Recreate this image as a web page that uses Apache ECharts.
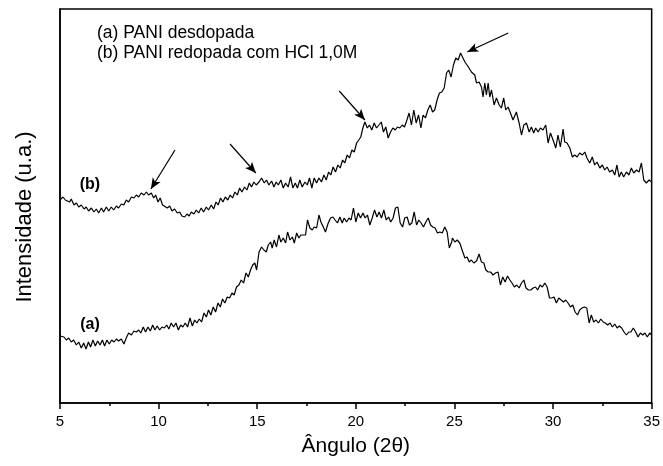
<!DOCTYPE html>
<html>
<head>
<meta charset="utf-8">
<script src="https://cdn.jsdelivr.net/npm/echarts@6/dist/echarts.min.js"></script>
<style>
  html, body { margin: 0; padding: 0; background: #fff; }
  #chart { width: 663px; height: 466px; }
</style>
</head>
<body>
<div id="chart"></div>
<script>
// Diffraction angle (2θ, degrees) and intensity (arbitrary units) for each sample.
// (b) PANI redopada com HCl 1,0M
const angleB = [
  5.00,5.03,5.15,5.27,5.37,5.49,5.57,5.71,5.83,5.95,6.08,6.22,6.33,6.45,6.59,6.72,6.84,6.96,7.10,7.21,
  7.35,7.47,7.60,7.72,7.86,7.97,8.11,8.24,8.36,8.48,8.62,8.75,8.87,8.99,9.12,9.26,9.38,9.49,9.63,9.75,
  9.85,9.97,10.08,10.20,10.30,10.44,10.56,10.68,10.81,10.95,11.07,11.18,11.32,11.44,11.55,11.66,11.79,11.91,12.03,12.16,
  12.28,12.42,12.53,12.67,12.79,12.91,13.02,13.14,13.26,13.38,13.51,13.63,13.75,13.87,13.99,14.11,14.22,14.36,14.48,14.60,
  14.71,14.83,14.95,15.09,15.22,15.36,15.47,15.59,15.73,15.85,15.96,16.07,16.20,16.32,16.44,16.57,16.69,16.81,16.93,17.04,
  17.16,17.28,17.42,17.54,17.65,17.77,17.89,18.01,18.13,18.26,18.38,18.50,18.62,18.73,18.85,18.97,19.09,19.21,19.33,19.44,
  19.56,19.68,19.80,19.92,20.04,20.15,20.25,20.37,20.46,20.58,20.69,20.81,20.93,21.05,21.17,21.29,21.40,21.52,21.64,21.76,
  21.88,22.00,22.11,22.23,22.35,22.47,22.59,22.70,22.82,22.94,23.06,23.18,23.30,23.41,23.53,23.65,23.77,23.89,24.00,24.12,
  24.24,24.36,24.48,24.60,24.71,24.83,24.95,25.07,25.19,25.31,25.41,25.53,25.64,25.74,25.86,25.95,26.03,26.12,26.25,26.37,
  26.45,26.54,26.62,26.71,26.79,26.88,27.01,27.13,27.27,27.38,27.50,27.60,27.72,27.84,27.97,28.14,28.28,28.40,28.52,28.65,
  28.79,28.90,29.02,29.12,29.24,29.36,29.49,29.63,29.75,29.87,30.00,30.14,30.25,30.37,30.51,30.59,30.71,30.85,30.98,31.10,
  31.22,31.35,31.49,31.61,31.72,31.86,31.99,32.11,32.23,32.37,32.50,32.62,32.74,32.87,33.01,33.13,33.24,33.35,33.46,33.58,
  33.72,33.85,33.97,34.09,34.23,34.36,34.48,34.60,34.73,34.87,35.00
];
const intensB = [
  203,204,206,203,205,201,204,198,200,196,198,194,196,192,195,191,194,190,195,191,
  196,192,196,193,197,195,199,198,203,201,206,205,208,206,210,208,211,208,210,205,
  208,201,205,198,200,195,197,192,194,190,191,187,186,189,187,191,189,193,190,195,
  191,196,193,198,194,201,198,205,201,206,203,208,205,211,208,215,211,216,213,220,
  216,221,218,221,225,220,223,218,222,216,221,218,223,215,220,216,226,215,220,215,
  223,216,221,218,225,215,225,220,225,221,228,223,231,228,236,231,238,235,243,240,
  248,245,253,251,260,263,266,276,281,275,278,273,280,275,278,281,271,276,265,271,
  275,273,276,275,278,276,283,290,278,293,280,288,275,288,285,293,298,291,293,303,
  310,311,315,330,333,326,338,345,343,350,348,341,338,335,331,333,328,320,321,316,
  306,320,308,320,306,313,298,305,298,295,305,293,296,290,283,291,280,268,278,280,
  271,276,270,275,271,275,273,278,260,270,263,255,268,256,274,261,260,255,246,248,
  246,250,248,251,245,240,246,238,241,235,238,233,236,231,233,228,238,226,231,226,
  231,228,235,230,233,231,240,223,220,223,221
];

// (a) PANI desdopada
const angleA = [
  5.00,5.10,5.20,5.32,5.44,5.57,5.69,5.83,5.95,6.08,6.20,6.32,6.44,6.55,6.67,6.79,6.91,7.03,7.15,7.26,
  7.38,7.50,7.62,7.74,7.86,7.97,8.11,8.24,8.36,8.48,8.62,8.75,8.87,8.99,9.10,9.22,9.34,9.46,9.58,9.70,
  9.81,9.93,10.05,10.17,10.29,10.41,10.52,10.64,10.76,10.88,11.00,11.12,11.23,11.35,11.47,11.59,11.71,11.83,11.94,12.06,
  12.18,12.30,12.42,12.53,12.65,12.77,12.89,13.01,13.13,13.24,13.36,13.48,13.60,13.72,13.83,13.95,14.07,14.19,14.31,14.43,
  14.55,14.66,14.77,14.88,14.97,15.09,15.22,15.34,15.46,15.56,15.68,15.76,15.86,15.98,16.10,16.20,16.32,16.44,16.54,16.66,
  16.78,16.88,17.00,17.11,17.21,17.33,17.45,17.55,17.67,17.79,17.89,18.01,18.13,18.23,18.35,18.46,18.60,18.72,18.84,18.95,
  19.07,19.19,19.31,19.41,19.53,19.65,19.76,19.88,20.00,20.12,20.24,20.36,20.47,20.59,20.71,20.83,20.95,21.07,21.18,21.30,
  21.42,21.54,21.66,21.77,21.89,22.01,22.13,22.25,22.37,22.48,22.60,22.72,22.84,22.96,23.08,23.19,23.31,23.43,23.55,23.67,
  23.79,23.90,24.02,24.14,24.26,24.38,24.51,24.63,24.74,24.86,24.90,25.02,25.14,25.27,25.39,25.53,25.64,25.75,25.86,25.98,
  26.12,26.25,26.37,26.49,26.59,26.71,26.83,26.96,27.08,27.21,27.33,27.45,27.57,27.69,27.81,27.92,28.04,28.16,28.28,28.40,
  28.52,28.63,28.75,28.87,28.99,29.11,29.22,29.34,29.46,29.58,29.70,29.82,29.93,30.05,30.17,30.29,30.41,30.53,30.64,30.76,
  30.88,31.00,31.12,31.24,31.35,31.47,31.59,31.71,31.83,31.94,32.06,32.18,32.30,32.42,32.54,32.65,32.77,32.89,33.01,33.13,
  33.25,33.36,33.48,33.60,33.72,33.84,33.95,34.07,34.19,34.31,34.43,34.55,34.66,34.78,34.90,35.00
];
const intensA = [
  67,65,66,63,65,61,63,58,61,55,60,54,61,56,63,57,62,58,63,57,
  63,59,63,61,64,62,64,59,65,70,68,72,71,73,70,76,71,76,72,78,
  73,77,73,76,75,78,74,80,76,80,73,78,76,80,76,85,77,83,80,84,
  81,90,86,93,88,96,91,100,96,104,100,106,105,110,108,116,118,123,120,130,
  126,133,138,140,133,151,156,153,151,158,161,155,163,156,168,161,165,160,171,163,
  166,160,170,165,168,168,168,183,175,173,176,175,188,181,176,171,180,185,186,183,
  180,186,180,185,181,185,183,195,181,190,185,190,185,188,178,185,193,186,191,185,
  193,183,186,181,185,195,196,180,176,185,186,178,180,191,178,183,180,176,181,185,
  178,176,175,170,171,170,176,171,155,161,165,161,163,160,153,145,146,141,143,140,
  142,149,141,140,133,131,131,128,130,131,118,126,121,127,123,120,116,118,115,120,
  123,115,113,113,115,116,113,118,116,120,116,105,105,106,100,105,103,101,103,100,
  96,98,91,88,93,95,96,95,80,88,81,83,80,84,81,80,78,80,76,79,
  75,77,75,71,68,71,71,75,71,66,70,68,70,66,70,68
];

// X axis range and tick step
const xMin = 5, xMax = 35, xStep = 5;
const yMin = 0, yMax = 394;

// Curve labels, placed in data coordinates
const labelA = '(a)', labelB = '(b)';
const labelPosA = [6.52, 78];
const labelPosB = [6.52, 218];

// Arrows marking the reflections of sample (b): [start, tip]
const arrowsB = [
  [[10.83, 253], [9.61, 214]],
  [[13.62, 259], [14.93, 230]],
  [[19.16, 312], [20.46, 283]],
  [[27.73, 370], [25.65, 351]]
];

const legendLines = ['(a) PANI desdopada', '(b) PANI redopada com HCl 1,0M'];
const xTitle = 'Ângulo (2θ)';
const yTitle = 'Intensidade (u.a.)';

const FONT = '"Liberation Sans", Arial, sans-serif';

function pairs(xs, ys) { return xs.map((x, i) => [x, ys[i]]); }

const chart = echarts.init(document.getElementById('chart'), null, { renderer: 'canvas' });

const curveLabel = (text, pos) => ({
  silent: true,
  symbol: 'circle',
  symbolSize: 0,
  label: {
    show: true, position: 'inside', formatter: text,
    fontFamily: FONT, fontWeight: 'bold', fontSize: 16, color: '#000'
  },
  data: [{ coord: pos }]
});

chart.setOption({
  animation: false,
  backgroundColor: '#fff',
  grid: { left: 60, right: 11, top: 9, bottom: 63, show: true, borderColor: '#000', borderWidth: 1.5, backgroundColor: 'transparent' },
  xAxis: {
    type: 'value', min: xMin, max: xMax, interval: xStep,
    name: xTitle, nameLocation: 'middle', nameGap: 33,
    nameTextStyle: { fontFamily: FONT, fontSize: 21, color: '#000' },
    axisLine: { show: true, onZero: false, lineStyle: { color: '#000', width: 1.5 } },
    axisTick: { show: true, inside: false, length: 6, lineStyle: { color: '#000', width: 1.5 } },
    minorTick: { show: true, splitNumber: 2, length: 3, lineStyle: { color: '#000', width: 1.5 } },
    axisLabel: { fontFamily: FONT, fontSize: 15, color: '#000', margin: 11 },
    splitLine: { show: false }
  },
  yAxis: {
    type: 'value', min: yMin, max: yMax,
    axisLine: { show: true, lineStyle: { color: '#000', width: 1.5 } },
    axisTick: { show: false },
    axisLabel: { show: false },
    splitLine: { show: false }
  },
  series: [
    {
      type: 'line', name: 'b', data: pairs(angleB, intensB),
      showSymbol: false, symbol: 'none', sampling: null,
      lineStyle: { color: '#000', width: 1.2 },
      markPoint: curveLabel(labelB, labelPosB),
      markLine: {
        silent: true, animation: false,
        lineStyle: { color: '#000', width: 1.2, type: 'solid' },
        label: { show: false },
        symbolSize: [7, 11],
        data: arrowsB.map(a => [
          { coord: a[0], symbol: 'none' },
          { coord: a[1], symbol: 'arrow' }
        ])
      }
    },
    {
      type: 'line', name: 'a', data: pairs(angleA, intensA),
      showSymbol: false, symbol: 'none', sampling: null,
      lineStyle: { color: '#000', width: 1.2 },
      markPoint: curveLabel(labelA, labelPosA)
    }
  ],
  graphic: [
    {
      type: 'text', left: 97, top: 24,
      style: { text: legendLines[0], font: '17.5px ' + FONT, fill: '#000' }
    },
    {
      type: 'text', left: 97, top: 44,
      style: { text: legendLines[1], font: '17.5px ' + FONT, fill: '#000' }
    },
    {
      type: 'text', x: 25, y: 217, rotation: Math.PI / 2,
      style: { text: yTitle, font: '22px ' + FONT, fill: '#000', align: 'center', verticalAlign: 'middle' }
    }
  ]
});
</script>
</body>
</html>
